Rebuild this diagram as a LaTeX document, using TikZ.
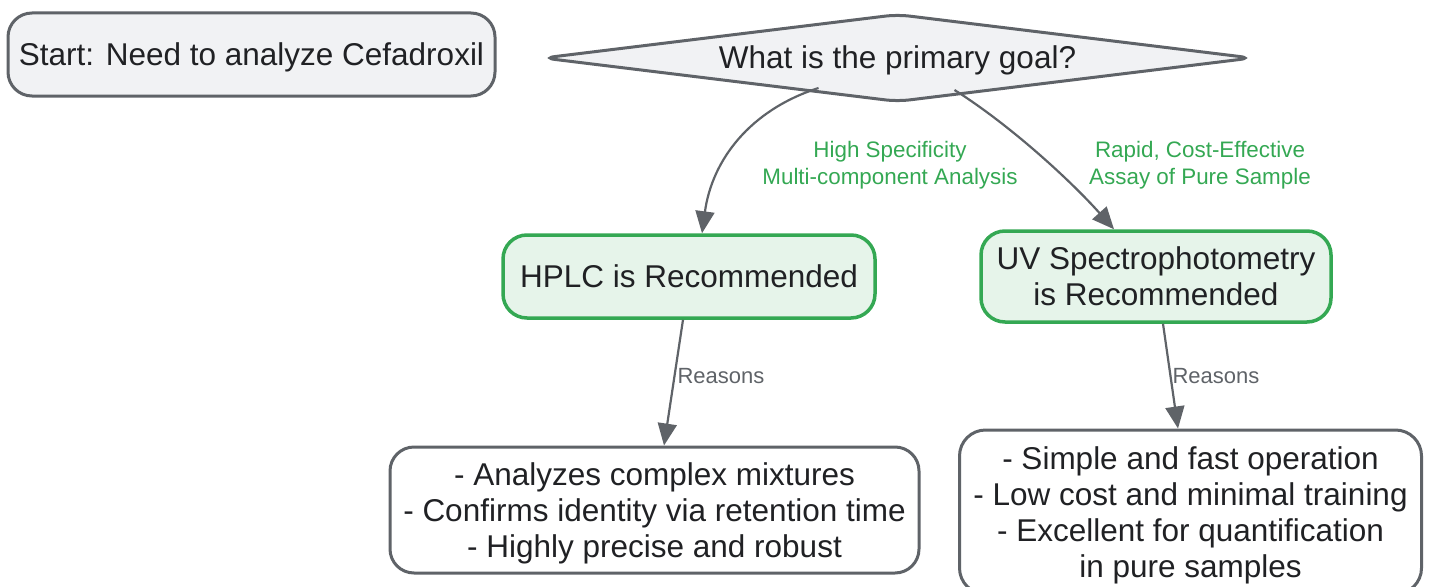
\documentclass[tikz,border=0pt]{standalone}
\usepackage{fontspec}
\setmainfont{Liberation Sans}
\usetikzlibrary{shapes.geometric,arrows.meta,calc}
\definecolor{edgegray}{HTML}{5F6368}
\definecolor{txt}{HTML}{202124}
\definecolor{boxfill}{HTML}{F1F2F4}
\definecolor{gfill}{HTML}{E6F4EA}
\definecolor{gline}{HTML}{34A853}
\tikzset{
  base/.style={rounded corners=24pt, line width=3pt, align=center, text=txt, inner sep=0pt,
    font=\fontsize{31.5}{36}\selectfont, text depth=-1.5pt},
  startbox/.style={base, draw=edgegray, fill=boxfill},
  recbox/.style={base, draw=gline, fill=gfill, line width=3.5pt},
  reasonbox/.style={base, draw=edgegray, fill=white},
  conn/.style={draw=edgegray, line width=2.2pt, -{Triangle[length=22pt,width=19pt]}},
  elabel/.style={text=gline, align=center, font=\fontsize{22.4}{27}\selectfont},
  rlabel/.style={text=edgegray, font=\fontsize{22}{25}\selectfont, anchor=west},
}
\begin{document}
\begin{tikzpicture}[x=1pt,y=-1pt]
\useasboundingbox (0,0) rectangle (1431,586);
\node[startbox, minimum width=487pt, minimum height=83pt] (start) at (251.5,54.5) {Start: Need to analyze Cefadroxil};
\node[draw=edgegray, fill=boxfill, line width=3pt, shape=diamond, aspect=8, inner sep=0pt,
  minimum width=710pt, minimum height=88pt, rounded corners=12pt, text=txt, text depth=1pt,
  font=\fontsize{31.5}{36}\selectfont] (q) at (897.5,58) {What is the primary goal?};
\node[recbox, minimum width=372pt, minimum height=83pt] (hplc) at (689,276.5) {HPLC is Recommended};
\node[recbox, minimum width=350pt, minimum height=91pt] (uv) at (1156,276.5) {UV Spectrophotometry\\is Recommended};
\node[reasonbox, minimum width=529pt, minimum height=126pt, text depth=-3pt] (hr) at (654.5,510) {- Analyzes complex mixtures\\- Confirms identity via retention time\\- Highly precise and robust};
\node[reasonbox, minimum width=462pt, minimum height=164pt, rounded corners=26pt] (ur) at (1190.5,512) {- Simple and fast operation\\- Low cost and minimal training\\- Excellent for quantification\\in pure samples};
\coordinate (qa) at ($(q.center)+(-79,30)$);
\coordinate (qb) at ($(q.center)+(57,32)$);
\draw[conn] (qa) .. controls (750,110) and (712,160) .. ($(hplc.north)+(13,0)$);
\draw[conn] (qb) .. controls (1010,125) and (1070,180) .. ($(uv.north)+(-42,0)$);
\node[elabel] (l1) at (890,165) {High Specificity\\Multi-component Analysis};
\node[elabel] (l2) at (1200,165) {Rapid, Cost-Effective\\Assay of Pure Sample};
\draw[conn] ($(hplc.south)+(-6,0)$) -- ($(hr.north)+(9.5,0)$);
\draw[conn] ($(uv.south)+(7,0)$) -- ($(ur.north)+(-12.5,0)$);
\node[rlabel] (r1) at (674,376) {Reasons};
\node[rlabel] (r2) at (1169,376) {Reasons};
\end{tikzpicture}
\end{document}
